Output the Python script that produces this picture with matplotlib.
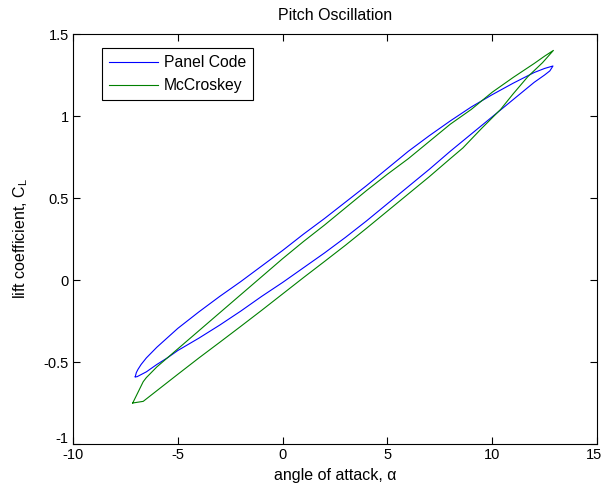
import numpy as np
import matplotlib.pyplot as plt
import matplotlib.transforms as mtransforms

plt.rcParams['font.family'] = ['Liberation Sans', 'DejaVu Sans']
plt.rcParams['axes.unicode_minus'] = False
plt.rcParams['mathtext.default'] = 'regular'

# panel code loop: upper branch (left -> right) then lower branch (right -> left)
panel_up_alpha = [-7.03, -6.98, -6.9, -6.75, -6.5, -6.0, -5.0, -4.0, -3.0, -2.0, -1.0, 0.0, 1.0, 2.0,
                  3.0, 4.0, 5.0, 6.0, 7.0, 8.0, 9.0, 10.0, 11.0, 12.0, 12.5, 12.9]
panel_up_cl = [-0.59, -0.565, -0.545, -0.515, -0.475, -0.41, -0.295, -0.195, -0.10, -0.01, 0.085, 0.18, 0.28, 0.375,
               0.475, 0.575, 0.68, 0.785, 0.88, 0.97, 1.055, 1.13, 1.20, 1.265, 1.29, 1.305]
panel_lo_alpha = [12.9, 12.75, 12.5, 12.0, 11.0, 10.0, 9.0, 8.0, 7.0, 6.0, 5.0, 4.0, 3.0,
                  2.0, 1.0, 0.0, -1.0, -2.0, -3.0, -4.0, -5.0, -5.5, -6.0, -6.5, -6.8, -6.95, -7.03]
panel_lo_cl = [1.305, 1.275, 1.25, 1.205, 1.10, 0.995, 0.89, 0.785, 0.675, 0.57, 0.465, 0.36, 0.26,
               0.165, 0.075, -0.015, -0.10, -0.19, -0.275, -0.355, -0.43, -0.475, -0.515, -0.56, -0.58, -0.59, -0.59]

# McCroskey loop: lower branch (left -> right) then upper branch (right -> left)
mcc_lo_alpha = [-7.15, -6.65, -6.0, -5.0, -4.0, -3.0, -2.0, -1.0, 0.0, 1.0, 2.0, 3.0, 4.0,
                5.0, 6.0, 7.0, 8.0, 8.6, 9.5, 10.4, 11.0, 11.7, 12.4, 12.92]
mcc_lo_cl = [-0.75, -0.74, -0.675, -0.575, -0.476, -0.38, -0.283, -0.185, -0.085, 0.015, 0.113, 0.212, 0.315,
             0.42, 0.525, 0.63, 0.74, 0.805, 0.925, 1.04, 1.135, 1.24, 1.325, 1.40]
mcc_up_alpha = [12.92, 12.5, 12.0, 11.0, 10.0, 9.0, 8.0, 7.0, 6.0, 5.0, 4.0, 3.0, 2.0, 1.0,
                0.0, -1.0, -2.0, -3.0, -4.0, -5.0, -5.5, -6.0, -6.5, -6.65, -7.15]
mcc_up_cl = [1.40, 1.365, 1.32, 1.235, 1.145, 1.04, 0.95, 0.845, 0.74, 0.645, 0.545, 0.44, 0.335, 0.235,
             0.13, 0.02, -0.09, -0.20, -0.31, -0.42, -0.475, -0.53, -0.595, -0.62, -0.75]

panel_alpha = np.concatenate([panel_up_alpha, panel_lo_alpha])
panel_cl = np.concatenate([panel_up_cl, panel_lo_cl])
mcc_alpha = np.concatenate([mcc_lo_alpha, mcc_up_alpha])
mcc_cl = np.concatenate([mcc_lo_cl, mcc_up_cl])

fig = plt.figure(figsize=(6.03, 4.88), dpi=100)
ax = fig.add_axes([73 / 603, 44 / 488, 524 / 603, 410 / 488])

ax.plot(panel_alpha, panel_cl, color=(0, 0, 1), lw=0.8, label="Panel Code")
ax.plot(mcc_alpha, mcc_cl, color=(0, 0.5, 0), lw=0.8, label="McCroskey")

ax.set_xlim(-10, 15)
ax.set_ylim(-1, 1.5)
ax.set_xticks([-10, -5, 0, 5, 10, 15])
ax.set_yticks([-1, -0.5, 0, 0.5, 1, 1.5])
ax.set_yticklabels(["-1", "-0.5", "0", "0.5", "1", "1.5"])

# matlab style box with inward ticks on all sides
ax.tick_params(direction="in", top=True, right=True, length=5, width=0.8,
               labelsize=10.5, pad=3)
for s in ax.spines.values():
    s.set_linewidth(0.8)

# lift the bottom y label a little so it clears the -10
lbl = ax.get_yticklabels()[0]
lbl.set_transform(lbl.get_transform() + mtransforms.ScaledTranslation(0, 5 / 72, fig.dpi_scale_trans))
# keep the last x label inside the figure
lbl = ax.get_xticklabels()[-1]
lbl.set_transform(lbl.get_transform() + mtransforms.ScaledTranslation(-2 / 72, 0, fig.dpi_scale_trans))

ax.set_xlabel("angle of attack, α", fontsize=11.5, labelpad=4)
ax.set_ylabel("lift coefficient, $C_L$", fontsize=11.5, labelpad=10)
ax.set_title("Pitch Oscillation", fontsize=11.5, pad=10)

leg = ax.legend(loc="upper left", bbox_to_anchor=(0.056, 0.965), borderaxespad=0,
                fontsize=11.3, fancybox=False, framealpha=1, edgecolor="black",
                handlelength=3.1, handletextpad=0.35, labelspacing=0.5, borderpad=0.45)
leg.get_frame().set_linewidth(0.8)

plt.savefig("out.png", dpi=100)
